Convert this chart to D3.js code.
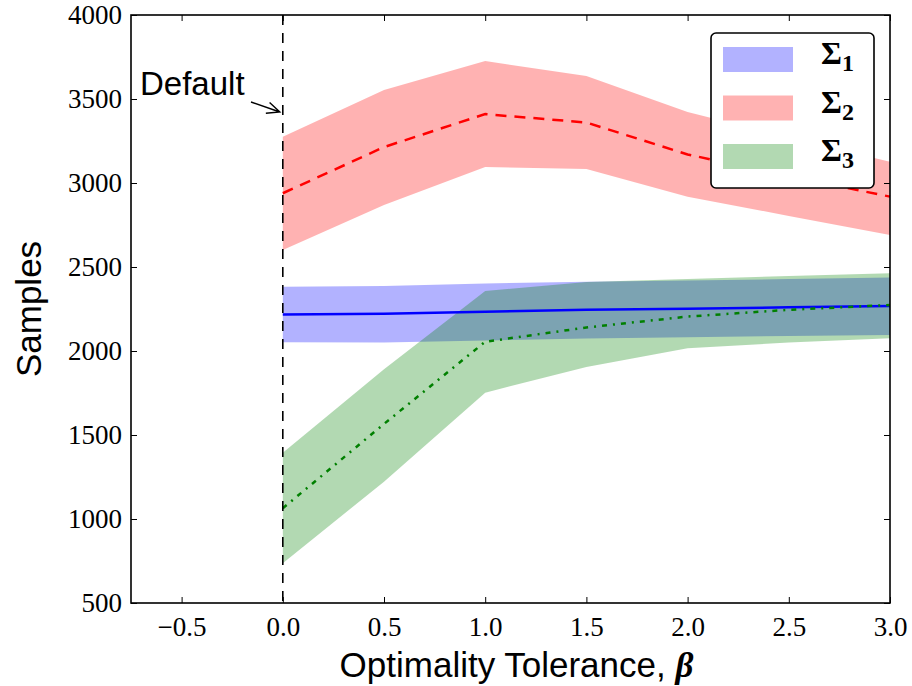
<!DOCTYPE html>
<html>
<head>
<meta charset="utf-8">
<script src="https://cdn.jsdelivr.net/npm/d3@7"></script>
<style>
  body { margin: 0; background: #fff; }
  svg { display: block; }
</style>
</head>
<body>
<script>
// values
var betas = [0, 0.5, 1.0, 1.5, 2.0, 2.5, 3.0];

var sigma1Mean  = [2218, 2222, 2234, 2245, 2252, 2260, 2268];
var sigma1Upper = [2383, 2387, 2402, 2412, 2420, 2428, 2437];
var sigma1Lower = [2052, 2050, 2062, 2075, 2082, 2090, 2095];

var sigma2Mean  = [2939, 3214, 3410, 3360, 3170, 3040, 2919];
var sigma2Upper = [3276, 3554, 3726, 3637, 3423, 3270, 3127];
var sigma2Lower = [2601, 2869, 3095, 3083, 2918, 2804, 2690];

var sigma3Mean  = [1064, 1566, 2055, 2140, 2205, 2245, 2274];
var sigma3Upper = [1395, 1891, 2357, 2410, 2428, 2446, 2463];
var sigma3Lower = [737, 1222, 1752, 1905, 2016, 2050, 2076];

var xTicks = [-0.5, 0.0, 0.5, 1.0, 1.5, 2.0, 2.5, 3.0];
var yTicks = [500, 1000, 1500, 2000, 2500, 3000, 3500, 4000];
var legendLabels = ["1", "2", "3"];

var width = 912;
var height = 686;
var padLeft = 131, padRight = 890, padTop = 15, padBottom = 603;

var svg = d3.select("body").append("svg")
  .attr("width", width)
  .attr("height", height);

var xScale = d3.scaleLinear().domain([-0.75, 3.0]).range([padLeft, padRight]);
var yScale = d3.scaleLinear().domain([500, 4000]).range([padBottom, padTop]);

var series = [
  {mean: sigma1Mean, upper: sigma1Upper, lower: sigma1Lower, color: "#0000ff", dash: null},
  {mean: sigma2Mean, upper: sigma2Upper, lower: sigma2Lower, color: "#ff0000", dash: "11,8"},
  {mean: sigma3Mean, upper: sigma3Upper, lower: sigma3Lower, color: "#008000", dash: "5,6,2,6"}
];

var plot = svg.append("g");

// bands
series.forEach(function(s) {
  var area = d3.area()
    .x(function(d, i) { return xScale(betas[i]); })
    .y0(function(d, i) { return yScale(s.lower[i]); })
    .y1(function(d, i) { return yScale(s.upper[i]); });
  plot.append("path")
    .datum(betas)
    .attr("d", area)
    .attr("fill", s.color)
    .attr("fill-opacity", 0.3);
});

// mean lines
series.forEach(function(s) {
  var line = d3.line()
    .x(function(d, i) { return xScale(betas[i]); })
    .y(function(d) { return yScale(d); });
  plot.append("path")
    .datum(s.mean)
    .attr("d", line)
    .attr("fill", "none")
    .attr("stroke", s.color)
    .attr("stroke-width", 2.5)
    .attr("stroke-dasharray", s.dash);
});

// default marker line at beta = 0
svg.append("line")
  .attr("x1", xScale(0)).attr("x2", xScale(0))
  .attr("y1", padTop).attr("y2", padBottom)
  .attr("stroke", "#000")
  .attr("stroke-width", 1.6)
  .attr("stroke-dasharray", "10,8");

// axes with inward ticks
var fmtX = function(d) { return d3.format(".1f")(d).replace("-", "\u2212"); };

var xAxis = svg.append("g")
  .attr("transform", "translate(0," + padBottom + ")")
  .call(d3.axisBottom(xScale).tickValues(xTicks).tickFormat(fmtX).tickSize(-6).tickPadding(14));
var yAxis = svg.append("g")
  .attr("transform", "translate(" + padLeft + ",0)")
  .call(d3.axisLeft(yScale).tickValues(yTicks).tickFormat(d3.format("d")).tickSize(-6).tickPadding(9));
var xTop = svg.append("g")
  .attr("transform", "translate(0," + padTop + ")")
  .call(d3.axisTop(xScale).tickValues(xTicks).tickFormat("").tickSize(-6));
var yRight = svg.append("g")
  .attr("transform", "translate(" + padRight + ",0)")
  .call(d3.axisRight(yScale).tickValues(yTicks).tickFormat("").tickSize(-6));

[xAxis, yAxis, xTop, yRight].forEach(function(g) {
  g.select(".domain").remove();
  g.selectAll("line").attr("stroke", "#000").attr("stroke-width", 1);
  g.selectAll("text")
    .attr("font-family", "'Liberation Serif', 'DejaVu Serif', serif")
    .attr("font-size", 27)
    .attr("fill", "#000");
});

// frame
svg.append("rect")
  .attr("x", padLeft).attr("y", padTop)
  .attr("width", padRight - padLeft).attr("height", padBottom - padTop)
  .attr("fill", "none")
  .attr("stroke", "#000")
  .attr("stroke-width", 1.6);

// axis labels
svg.append("text")
  .attr("x", (padLeft + padRight) / 2 + 6)
  .attr("y", 677)
  .attr("text-anchor", "middle")
  .attr("font-family", "'Liberation Sans', Arial, sans-serif")
  .attr("font-size", 35)
  .text("Optimality Tolerance, ")
  .append("tspan")
  .attr("font-family", "'Liberation Serif', serif")
  .attr("font-style", "italic")
  .attr("font-weight", "bold")
  .text("\u03B2");

svg.append("text")
  .attr("transform", "translate(41," + ((padTop + padBottom) / 2) + ") rotate(-90)")
  .attr("text-anchor", "middle")
  .attr("font-family", "'Liberation Sans', Arial, sans-serif")
  .attr("font-size", 35)
  .text("Samples");

// "Default" annotation
svg.append("text")
  .attr("x", 140)
  .attr("y", 95)
  .attr("font-family", "'Liberation Sans', Arial, sans-serif")
  .attr("font-size", 33)
  .text("Default");

var ax = 251, ay = 102, bx = xScale(0) - 3, by = 112;
var ang = Math.atan2(by - ay, bx - ax);
var head = 14, spread = 0.42;
svg.append("path")
  .attr("d", "M" + ax + "," + ay + "L" + bx + "," + by +
    "M" + (bx - head * Math.cos(ang - spread)) + "," + (by - head * Math.sin(ang - spread)) +
    "L" + bx + "," + by +
    "L" + (bx - head * Math.cos(ang + spread)) + "," + (by - head * Math.sin(ang + spread)))
  .attr("fill", "none")
  .attr("stroke", "#000")
  .attr("stroke-width", 1.4);

// legend
var legend = svg.append("g");
legend.append("rect")
  .attr("x", 711).attr("y", 33)
  .attr("width", 163).attr("height", 155)
  .attr("rx", 5)
  .attr("fill", "#fff")
  .attr("stroke", "#000")
  .attr("stroke-width", 1.6);

var legendColors = ["#0000ff", "#ff0000", "#008000"];
legendLabels.forEach(function(lbl, i) {
  var yy = 47 + i * 48.5;
  legend.append("rect")
    .attr("x", 723).attr("y", yy)
    .attr("width", 70).attr("height", 25)
    .attr("fill", legendColors[i])
    .attr("fill-opacity", 0.3);
  var t = legend.append("text")
    .attr("x", 821)
    .attr("y", yy + 17)
    .attr("font-family", "'Liberation Serif', 'DejaVu Serif', serif")
    .attr("font-weight", "bold")
    .attr("font-size", 32)
    .text("\u03A3");
  t.append("tspan")
    .attr("dy", 7)
    .attr("font-size", 24)
    .text(lbl);
});
</script>
</body>
</html>
